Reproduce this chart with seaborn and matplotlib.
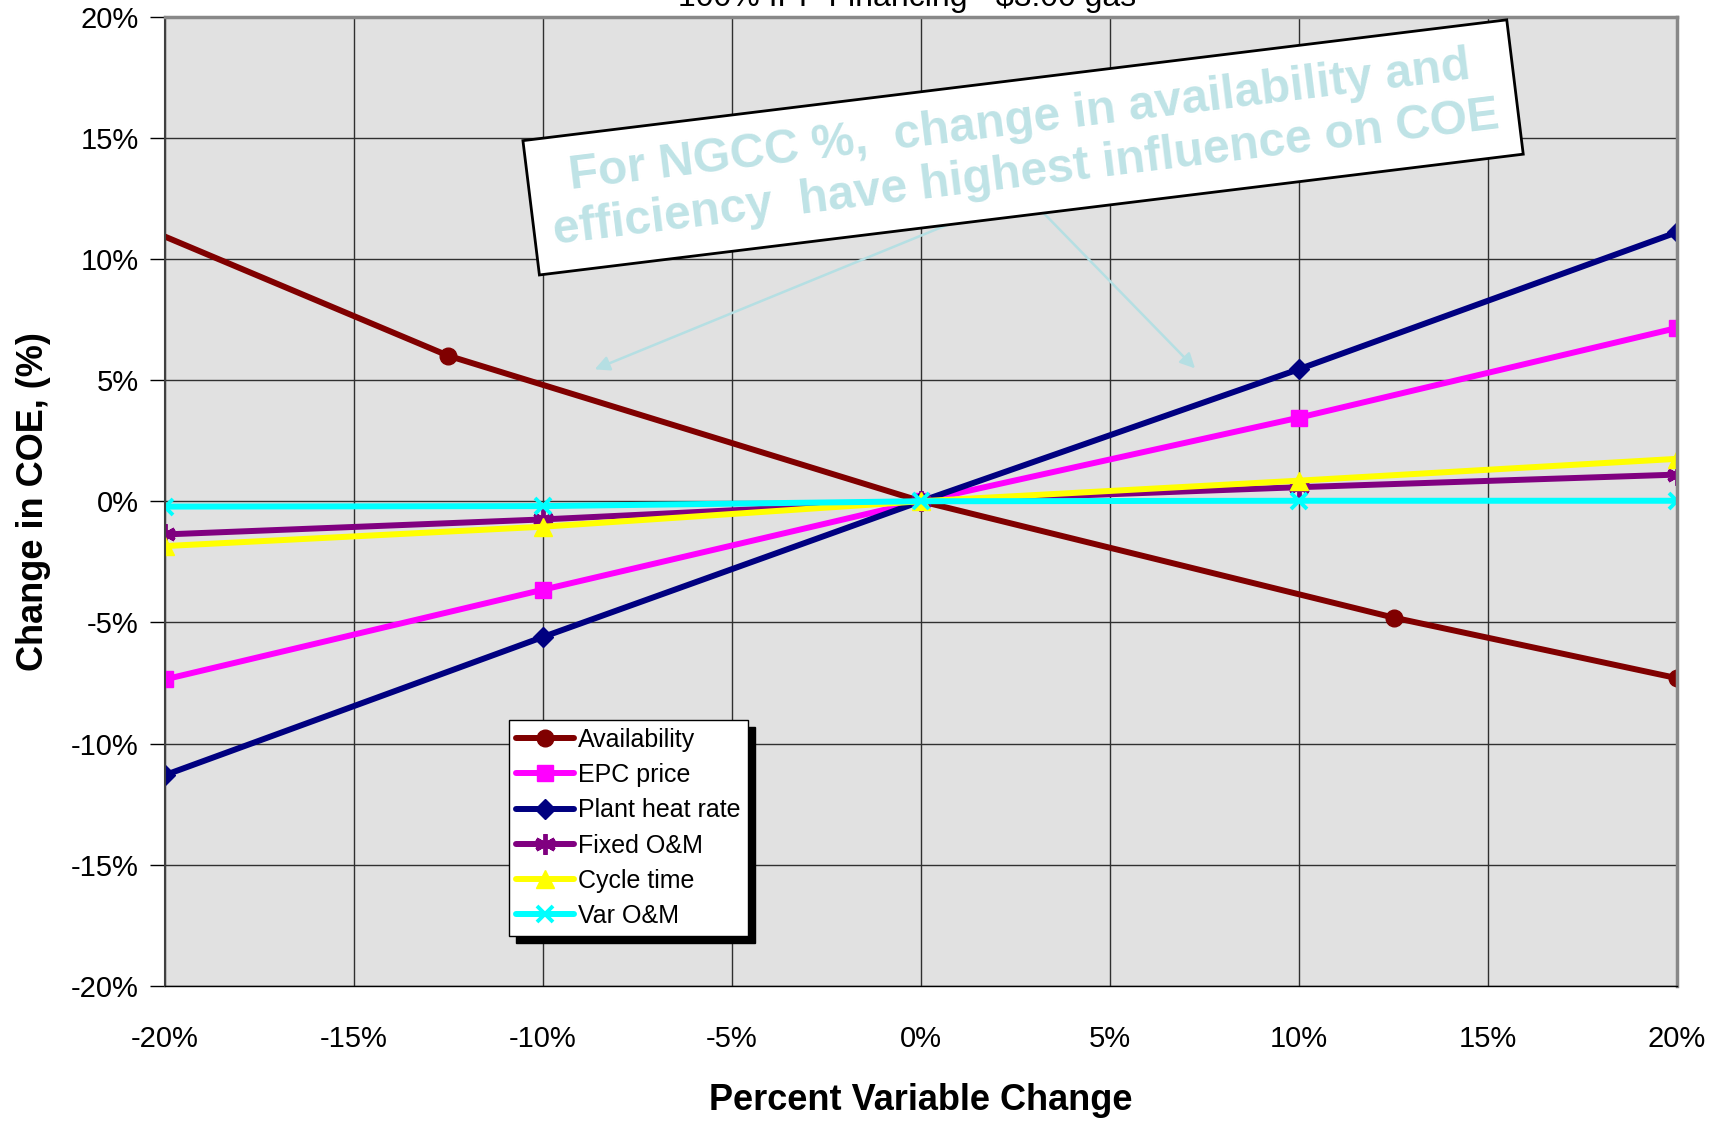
import matplotlib
matplotlib.use("Agg")
import matplotlib.pyplot as plt
import seaborn as sns
import pandas as pd
from matplotlib.ticker import FuncFormatter, MultipleLocator

# ---- data (percent) ----
avail_x = [-20.2, -12.5, 0, 12.5, 20]
avail_y = [11.05, 6.0, 0.0, -4.8, -7.3]
std_x = [-20, -10, 0, 10, 20]
epc_y = [-7.35, -3.65, 0.0, 3.45, 7.15]
heat_y = [-11.3, -5.6, 0.0, 5.45, 11.1]
fixed_y = [-1.37, -0.75, 0.0, 0.58, 1.1]
cycle_y = [-1.85, -1.05, 0.0, 0.85, 1.75]
var_y = [-0.22, -0.2, 0.0, 0.02, 0.02]

series_names = ["Availability", "EPC price", "Plant heat rate",
                "Fixed O&M", "Cycle time", "Var O&M"]
title_text = "100% IPP Financing - \\$3.00 gas"
note_text = "For NGCC %,  change in availability and\nefficiency  have highest influence on COE"

sns.set_theme(style="white")
plt.rcParams['font.family'] = ['Liberation Sans', 'DejaVu Sans']

fig = plt.figure(figsize=(17.22, 11.24), dpi=100)
ax = fig.add_axes([0.0958, 0.1228, 0.8781, 0.8625])
ax.set_facecolor('#E1E1E1')

styles = [
    (avail_x, avail_y, '#800000', 'o', 12, [1, 2, 3, 4]),
    (std_x, epc_y, '#FF00FF', 's', 12, None),
    (std_x, heat_y, '#000080', 'D', 10, None),
    (std_x, fixed_y, '#800080', (6, 2, 0), 15, None),
    (std_x, cycle_y, '#FFFF00', '^', 13, None),
    (std_x, var_y, '#00FFFF', 'x', 12, None),
]
for name, (xs, ys, col, mk, ms, me) in zip(series_names, styles):
    df = pd.DataFrame({"x": xs, "y": ys})
    kw = dict(marker=mk, markersize=ms, markeredgecolor=col, markerfacecolor=col,
              markeredgewidth=2.8 if mk in ('x', (6, 2, 0)) else 1)
    if me is not None:
        kw['markevery'] = me
    sns.lineplot(data=df, x="x", y="y", ax=ax, color=col, linewidth=4.3,
                 label=name, sort=False, estimator=None, clip_on=True, **kw)

ax.set_xlim(-20, 20)
ax.set_ylim(-20, 20)
ax.xaxis.set_major_locator(MultipleLocator(5))
ax.yaxis.set_major_locator(MultipleLocator(5))
fmt = FuncFormatter(lambda v, p: f"{v:.0f}%")
ax.xaxis.set_major_formatter(fmt)
ax.yaxis.set_major_formatter(fmt)
ax.grid(True, color='#303030', linewidth=1.0)
ax.set_axisbelow(True)
ax.tick_params(axis='x', length=0, pad=28, labelsize=21, colors='black')
ax.tick_params(axis='y', length=11, width=1, pad=8, labelsize=21, colors='black', left=True)

ax.set_xlabel("Percent Variable Change", fontsize=26, fontweight='bold', labelpad=22, color='black')
ax.set_ylabel("Change in COE, (%)", fontsize=26, fontweight='bold', labelpad=14, color='black')

ax.spines['left'].set_color('#404040')
ax.spines['left'].set_linewidth(1.5)
ax.spines['right'].set_color('#888888')
ax.spines['right'].set_linewidth(2.5)
ax.spines['top'].set_color('#888888')
ax.spines['top'].set_linewidth(2.5)
ax.spines['bottom'].set_color('black')
ax.spines['bottom'].set_linewidth(1)

leg = ax.legend(loc='upper left', bbox_to_anchor=(0.2275, 0.274), borderaxespad=0,
                frameon=True, fancybox=False, edgecolor='black', framealpha=1,
                facecolor='white', fontsize=18, handlelength=2.3, labelspacing=0.45,
                handletextpad=0.15, borderpad=0.3,
                shadow={'color': 'black', 'alpha': 1, 'ox': 5, 'oy': -5})
leg.get_frame().set_linewidth(1)
leg.set_zorder(10)
for t in leg.get_texts():
    t.set_color('black')

# arrows
arrow_col = '#B5DFE3'
ax.annotate("", xy=(-8.7, 5.4), xytext=(1.0, 11.6),
            arrowprops=dict(arrowstyle='-|>', color=arrow_col, lw=1.8, mutation_scale=22),
            zorder=4)
ax.annotate("", xy=(7.3, 5.4), xytext=(2.8, 12.6),
            arrowprops=dict(arrowstyle='-|>', color=arrow_col, lw=1.8, mutation_scale=22),
            zorder=4)

ax.text(2.7, 14.6, note_text, ha='center', va='center', rotation=7.0,
        rotation_mode='anchor', fontsize=34.5, fontweight='bold', color='#BFE3E6',
        linespacing=1.2, zorder=6,
        bbox=dict(boxstyle='square,pad=0.4', facecolor='white', edgecolor='black', linewidth=2))

fig.text(0.527, 0.9947, title_text, ha='center', va='baseline', fontsize=23, color='black')

fig.savefig("out.png", dpi=100)
